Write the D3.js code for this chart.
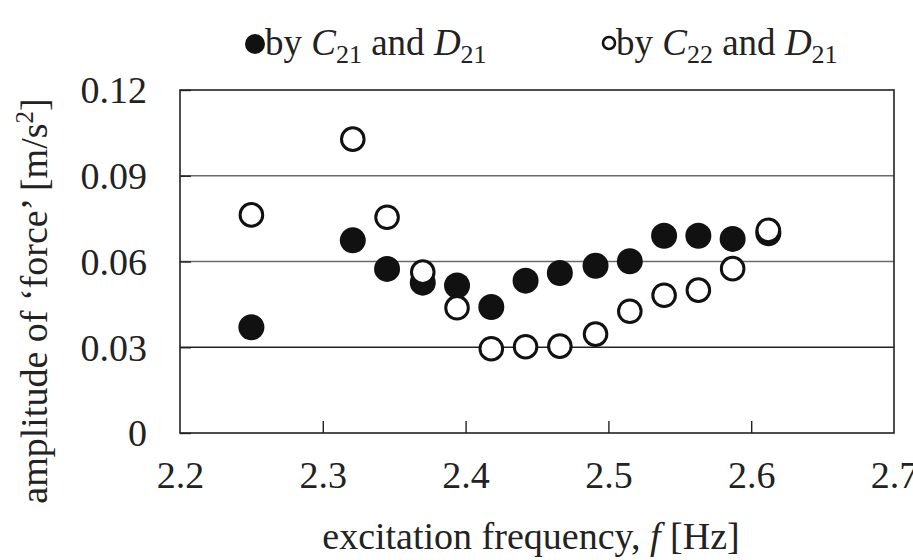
<!DOCTYPE html>
<html>
<head>
<meta charset="utf-8">
<script src="https://cdn.jsdelivr.net/npm/d3@7"></script>
<style>
  html, body { margin: 0; padding: 0; background: #fff; }
  svg { display: block; }
  text { font-family: "Liberation Serif", "Times New Roman", serif; fill: #222; }
</style>
</head>
<body>
<svg id="chart" width="913" height="560"></svg>
<script>
// ---- data ----
const freq      = [2.250, 2.321, 2.345, 2.370, 2.394, 2.418, 2.442, 2.466, 2.491, 2.515, 2.539, 2.563, 2.587, 2.612];
const byC21D21  = [0.0370, 0.0674, 0.0574, 0.0526, 0.0516, 0.0441, 0.0533, 0.0560, 0.0585, 0.0601, 0.0690, 0.0690, 0.0679, 0.0699];
const byC22D21  = [0.0763, 0.1028, 0.0755, 0.0563, 0.0438, 0.0295, 0.0302, 0.0304, 0.0346, 0.0426, 0.0482, 0.0500, 0.0575, 0.0709];
const xTicks    = [2.2, 2.3, 2.4, 2.5, 2.6, 2.7];
const yTicks    = [0, 0.03, 0.06, 0.09, 0.12];

const FONT = "'Liberation Serif', 'Times New Roman', serif";
const svg = d3.select("#chart");
const L = 180, R = 894, T = 90, B = 433;

const x = d3.scaleLinear().domain([2.2, 2.7]).range([L, R]);
const y = d3.scaleLinear().domain([0, 0.12]).range([B, T]);

// gridlines
svg.append("g").selectAll("line")
  .data(yTicks.filter(d => d > 0 && d < 0.12))
  .join("line")
  .attr("x1", L).attr("x2", R)
  .attr("y1", d => y(d)).attr("y2", d => y(d))
  .attr("stroke", d => d === 0.03 ? "#222" : "#6a6a6a")
  .attr("stroke-width", 1.4);

// y axis ticks (inward) and labels
const yAxis = d3.axisLeft(y).tickValues(yTicks).tickSize(-11).tickPadding(33)
  .tickFormat(d => d === 0 ? "0" : d3.format(".2f")(d));
const gy = svg.append("g").attr("transform", `translate(${L},0)`).call(yAxis)
  .attr("font-family", FONT);
gy.select(".domain").remove();
gy.selectAll(".tick line").attr("stroke", "#222").attr("stroke-width", 1.4);
gy.selectAll(".tick text").attr("font-size", 38).attr("fill", "#222")
  .attr("font-family", FONT).attr("dy", "0.34em");

// x axis ticks (inward) and labels
const xAxis = d3.axisBottom(x).tickValues(xTicks).tickSize(-12).tickPadding(28)
  .tickFormat(d3.format(".1f"));
const gx = svg.append("g").attr("transform", `translate(0,${B})`).call(xAxis)
  .attr("font-family", FONT);
gx.select(".domain").remove();
gx.selectAll(".tick line").attr("stroke", "#222").attr("stroke-width", 1.4)
  .attr("display", d => (d === 2.2 || d === 2.7) ? "none" : null);
gx.selectAll(".tick text").attr("font-size", 38).attr("fill", "#222")
  .attr("font-family", FONT);

// frame
svg.append("rect").attr("x", L).attr("y", T).attr("width", R - L).attr("height", B - T)
  .attr("fill", "none").attr("stroke", "#222").attr("stroke-width", 1.6);

// filled series
svg.append("g").selectAll("circle")
  .data(freq.map((f, i) => [f, byC21D21[i]]))
  .join("circle")
  .attr("cx", d => x(d[0])).attr("cy", d => y(d[1])).attr("r", 13)
  .attr("fill", "#111");

// open series
svg.append("g").selectAll("circle")
  .data(freq.map((f, i) => [f, byC22D21[i]]))
  .join("circle")
  .attr("cx", d => x(d[0])).attr("cy", d => y(d[1])).attr("r", 11.3)
  .attr("fill", "#fff").attr("stroke", "#111").attr("stroke-width", 3);

// axis titles
svg.append("text").attr("x", 531).attr("y", 549).attr("text-anchor", "middle")
  .attr("font-size", 38).attr("font-family", FONT)
  .call(t => {
    t.append("tspan").text("excitation frequency, ");
    t.append("tspan").attr("font-style", "italic").text("f");
    t.append("tspan").text(" [Hz]");
  });

svg.append("text").attr("transform", "translate(47,301) rotate(-90)").attr("text-anchor", "middle")
  .attr("font-size", 38).attr("font-family", FONT)
  .call(t => {
    t.append("tspan").text("amplitude of \u2018force\u2019 [m/s");
    t.append("tspan").attr("font-size", 25).attr("dy", -14).text("2");
    t.append("tspan").attr("dy", 14).text("]");
  });

// legend
function legendText(xp, sub1) {
  const t = svg.append("text").attr("x", xp).attr("y", 55).attr("font-size", 37)
    .attr("font-family", FONT);
  t.append("tspan").text("by ");
  t.append("tspan").attr("font-style", "italic").text("C");
  t.append("tspan").attr("font-size", 26).attr("dy", 8).text(sub1);
  t.append("tspan").attr("dy", -8).text(" and ");
  t.append("tspan").attr("font-style", "italic").text("D");
  t.append("tspan").attr("font-size", 26).attr("dy", 8).text("21");
}
svg.append("ellipse").attr("cx", 255).attr("cy", 44).attr("rx", 10).attr("ry", 10).attr("fill", "#111");
legendText(265, "21");
svg.append("circle").attr("cx", 609).attr("cy", 43).attr("r", 6).attr("fill", "none")
  .attr("stroke", "#111").attr("stroke-width", 2.6);
legendText(616, "22");
</script>
</body>
</html>
